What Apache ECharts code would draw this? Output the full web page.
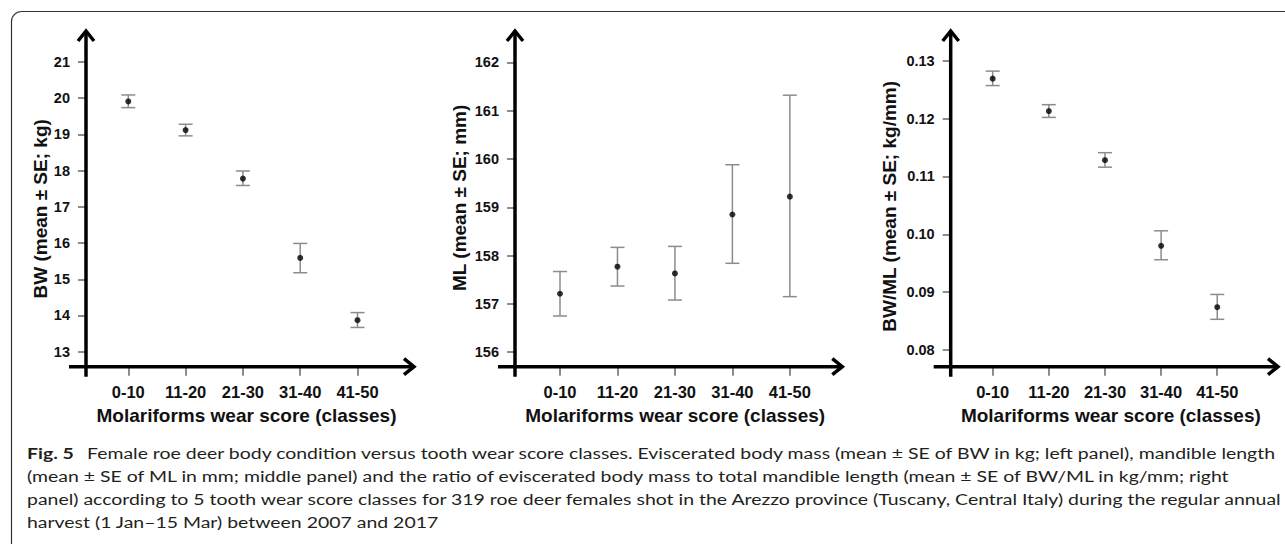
<!DOCTYPE html>
<html>
<head>
<meta charset="utf-8">
<script src="https://cdn.jsdelivr.net/npm/echarts@6/dist/echarts.min.js"></script>
<style>
html,body{margin:0;padding:0;background:#fff;}
#c{width:1285px;height:544px;}
</style>
</head>
<body>
<div id="c"></div>
<script>
// ---- data ----
const categories = ['0-10', '11-20', '21-30', '31-40', '41-50'];
const classPositions = [1, 2, 3, 4, 5];

const bwMean = [19.91, 19.12, 17.78, 15.59, 13.87];
const bwLow  = [19.74, 18.96, 17.59, 15.18, 13.67];
const bwHigh = [20.09, 19.28, 17.99, 15.99, 14.08];
const bwTicks = [13, 14, 15, 16, 17, 18, 19, 20, 21];

const mlMean = [157.21, 157.77, 157.63, 158.85, 159.22];
const mlLow  = [156.75, 157.37, 157.08, 157.84, 157.15];
const mlHigh = [157.67, 158.17, 158.19, 159.88, 161.32];
const mlTicks = [156, 157, 158, 159, 160, 161, 162];

const ratioMean = [0.1269, 0.1213, 0.1128, 0.0980, 0.0874];
const ratioLow  = [0.1257, 0.1202, 0.1116, 0.0956, 0.0853];
const ratioHigh = [0.1282, 0.1224, 0.1141, 0.1006, 0.0896];
const ratioTicks = [0.08, 0.09, 0.10, 0.11, 0.12, 0.13];

const xTitle = 'Molariforms wear score (classes)';
const yTitles = ['BW (mean ± SE; kg)', 'ML (mean ± SE; mm)', 'BW/ML (mean ± SE; kg/mm)'];

const captionLabel = 'Fig. 5';
const captionLines = [
  'Female roe deer body condition versus tooth wear score classes. Eviscerated body mass (mean ± SE of BW in kg; left panel), mandible length',
  '(mean ± SE of ML in mm; middle panel) and the ratio of eviscerated body mass to total mandible length (mean ± SE of BW/ML in kg/mm; right',
  'panel) according to 5 tooth wear score classes for 319 roe deer females shot in the Arezzo province (Tuscany, Central Italy) during the regular annual',
  'harvest (1 Jan\u201315 Mar) between 2007 and 2017'
];

// ---- layout ----
const FONT = "'Liberation Sans', Arial, Helvetica, sans-serif";
const CAP_FONT = "Lato, 'Open Sans', sans-serif";
const INK = '#111';

const panels = [
  { grid: { left: 86, top: 29, width: 329, height: 337.7 }, x: [0.262, 6.003], y: [12.586, 21.911],
    ticks: bwTicks, fmt: v => String(v), mean: bwMean, low: bwLow, high: bwHigh, nameGap: 34, namePad: 22 },
  { grid: { left: 515, top: 29, width: 328.3, height: 337.7 }, x: [0.217, 5.93], y: [155.70, 162.69],
    ticks: mlTicks, fmt: v => String(v), mean: mlMean, low: mlLow, high: mlHigh, nameGap: 46, namePad: 0 },
  { grid: { left: 950.7, top: 29, width: 328.3, height: 337.7 }, x: [0.252, 6.10], y: [0.07711, 0.13548],
    ticks: ratioTicks, fmt: v => v.toFixed(2), mean: ratioMean, low: ratioLow, high: ratioHigh, nameGap: 52, namePad: 17 }
];

const grids = [], xAxes = [], yAxes = [], series = [];

panels.forEach((p, i) => {
  grids.push(Object.assign({ containLabel: false, outerBoundsMode: 'none' }, p.grid));
  xAxes.push({
    gridIndex: i, type: 'value', min: p.x[0], max: p.x[1],
    axisLine: { show: false }, splitLine: { show: false },
    axisTick: { show: true, customValues: classPositions, length: 9, lineStyle: { color: '#666', width: 1.5 } },
    axisLabel: { customValues: classPositions, formatter: v => categories[Math.round(v) - 1],
      margin: 17, fontSize: 16.5, fontWeight: 'bold', color: INK, fontFamily: FONT },
    name: xTitle, nameLocation: 'middle', nameGap: 36,
    nameTextStyle: { fontSize: 19, fontWeight: 'bold', color: INK, fontFamily: FONT, padding: [0, 8, 0, 0] }
  });
  yAxes.push({
    gridIndex: i, type: 'value', min: p.y[0], max: p.y[1],
    axisLine: { show: false }, splitLine: { show: false },
    axisTick: { show: true, customValues: p.ticks, length: 8, lineStyle: { color: '#666', width: 1.5 } },
    axisLabel: { customValues: p.ticks, formatter: p.fmt, margin: 16, fontSize: 14.5, fontWeight: 'bold', color: INK, fontFamily: FONT },
    name: yTitles[i], nameLocation: 'middle', nameRotate: 90, nameGap: p.nameGap,
    nameTextStyle: { fontSize: 19, fontWeight: 'bold', color: INK, fontFamily: FONT, padding: [0, p.namePad, 0, 0] }
  });

  // axis lines with open arrow heads
  series.push({
    type: 'custom', xAxisIndex: i, yAxisIndex: i, clip: false, silent: true, z: 3,
    data: [[p.x[0], p.y[0]]],
    renderItem: function (params, api) {
      const o = api.coord([p.x[0], p.y[0]]);
      const xt = api.coord([p.x[1], p.y[0]]);
      const yt = api.coord([p.x[0], p.y[1]]);
      const st = { stroke: '#000', lineWidth: 3.5, fill: 'none', lineJoin: 'miter', lineCap: 'butt' };
      return {
        type: 'group',
        children: [
          { type: 'line', shape: { x1: o[0] - 17, y1: o[1], x2: xt[0] - 2, y2: o[1] }, style: st },
          { type: 'line', shape: { x1: o[0], y1: o[1] + 10, x2: o[0], y2: yt[1] + 2 }, style: st },
          { type: 'polyline', shape: { points: [[xt[0] - 11, o[1] - 8], [xt[0] - 1, o[1]], [xt[0] - 11, o[1] + 8]] }, style: st },
          { type: 'polyline', shape: { points: [[o[0] - 8, yt[1] + 12], [o[0], yt[1] + 2], [o[0] + 8, yt[1] + 12]] }, style: st }
        ]
      };
    }
  });

  // error bars (mean ± SE)
  series.push({
    type: 'custom', xAxisIndex: i, yAxisIndex: i, clip: false, silent: true, z: 4,
    data: classPositions.map((x, k) => [x, p.low[k], p.high[k]]),
    renderItem: function (params, api) {
      const x = api.value(0);
      const lo = api.coord([x, api.value(1)]);
      const hi = api.coord([x, api.value(2)]);
      const st = { stroke: '#8c8c8c', lineWidth: 1.5, fill: 'none' };
      return {
        type: 'group',
        children: [
          { type: 'line', shape: { x1: lo[0], y1: lo[1], x2: hi[0], y2: hi[1] }, style: st },
          { type: 'line', shape: { x1: hi[0] - 7, y1: hi[1], x2: hi[0] + 7, y2: hi[1] }, style: st },
          { type: 'line', shape: { x1: lo[0] - 7, y1: lo[1], x2: lo[0] + 7, y2: lo[1] }, style: st }
        ]
      };
    }
  });

  // means
  series.push({
    type: 'scatter', xAxisIndex: i, yAxisIndex: i, z: 5, silent: true,
    symbol: 'circle', symbolSize: 6, itemStyle: { color: '#000' },
    data: classPositions.map((x, k) => [x, p.mean[k]])
  });
});

// caption: horizontally widened text, as in the reference figure
const CAP_SCALE_X = 1.215;
const captionY = [453, 476, 499, 522];
const capText = (txt, x, y, weight) => ({
  type: 'text', silent: true, x: x, y: y, scaleX: CAP_SCALE_X, scaleY: 1,
  style: { x: 0, y: 0, text: txt, fill: '#231f20', fontFamily: CAP_FONT, fontSize: 16, fontWeight: weight,
           verticalAlign: 'middle', align: 'left' }
});

const graphics = [
  { type: 'rect', silent: true, z: -10,
    shape: { x: 11.5, y: 11.5, width: 1300, height: 560, r: 10 },
    style: { fill: 'none', stroke: '#333', lineWidth: 1.2 } },
  capText(captionLabel, 27, captionY[0], 'bold')
].concat(captionLines.map((t, k) => capText(t, k === 0 ? 87 : 27, captionY[k], 'normal')));

const chart = echarts.init(document.getElementById('c'), null, { renderer: 'svg' });
chart.setOption({
  animation: false,
  backgroundColor: '#fff',
  grid: grids,
  xAxis: xAxes,
  yAxis: yAxes,
  series: series,
  graphic: graphics
});
</script>
</body>
</html>
